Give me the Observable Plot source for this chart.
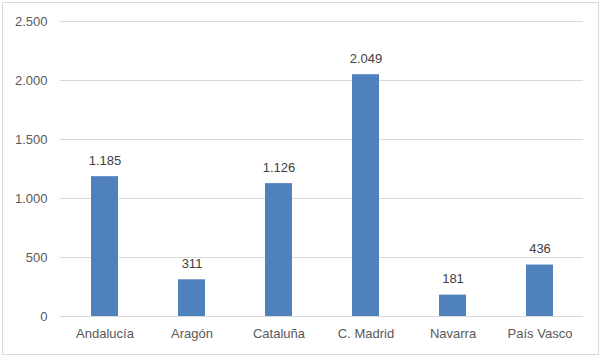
<!DOCTYPE html>
<html>
<head>
<meta charset="utf-8">
<script src="https://cdn.jsdelivr.net/npm/d3@7"></script>
<script src="https://cdn.jsdelivr.net/npm/@observablehq/plot@0.6"></script>
<style>
  html, body { margin: 0; padding: 0; background: #fff; }
  #wrap { position: relative; width: 602px; height: 361px; }
  #border { position: absolute; left: 2px; top: 2px; width: 597px; height: 353px; border: 1px solid #d9d9d9; box-sizing: border-box; pointer-events: none; }
  #chart { position: absolute; left: 0; top: 0; }
</style>
</head>
<body>
<div id="wrap"><div id="chart"></div><div id="border"></div></div>
<script>
const categories = ["Andalucía", "Aragón", "Cataluña", "C. Madrid", "Navarra", "País Vasco"];
const values = [1185, 311, 1126, 2049, 181, 436];
const yTicks = [0, 500, 1000, 1500, 2000, 2500];

const locale = d3.formatLocale({decimal: ",", thousands: ".", grouping: [3], currency: ["", " €"]});
const fmt = locale.format(",d");

const data = categories.map((c, i) => ({region: c, value: values[i]}));

const chart = Plot.plot({
  width: 602,
  height: 361,
  marginLeft: 60,
  marginRight: 19,
  marginTop: 21,
  marginBottom: 45,
  style: {fontFamily: "Liberation Sans, Arial, sans-serif", fontSize: "13px", background: "transparent"},
  x: {domain: categories, paddingInner: 0.69, paddingOuter: 0.345, label: null},
  y: {domain: [0, 2500], label: null},
  marks: [
    Plot.gridY(yTicks, {stroke: "#d9d9d9", strokeOpacity: 1}),
    Plot.barY(data, {x: "region", y: "value", fill: "#4f81bd"}),
    Plot.ruleY([0], {stroke: "#d9d9d9", strokeOpacity: 1}),
    Plot.text(data, {x: "region", y: "value", text: d => fmt(d.value), dy: -16, fill: "#404040", fontSize: 13}),
    Plot.axisY(yTicks, {tickSize: 0, tickPadding: 13, tickFormat: fmt, label: null, color: "#595959", fontSize: 13}),
    Plot.axisX({tickSize: 0, tickPadding: 12, label: null, color: "#595959", fontSize: 13})
  ]
});
document.getElementById("chart").appendChild(chart);
</script>
</body>
</html>
